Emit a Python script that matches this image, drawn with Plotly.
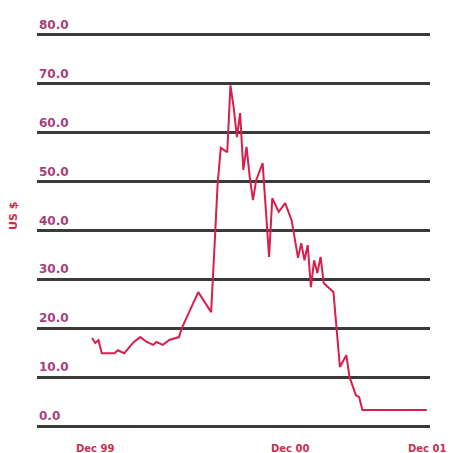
import plotly.graph_objects as go

# weeks since Dec 1999
weeks = [0, 1, 2, 3, 7, 8, 10, 13, 15, 17, 19, 20, 22, 24, 27, 28, 33, 37, 38, 39, 40,
         42, 43, 44, 45, 46, 47, 48, 49, 50, 51, 53, 55, 56, 58, 60, 62, 64, 65, 66, 67,
         68, 69, 70, 71, 72, 75, 77, 79, 80, 82, 83, 84, 90, 96, 104]
price = [18.0, 17.0, 17.6, 14.9, 14.9, 15.5, 14.9, 17.2, 18.2, 17.2, 16.6, 17.2, 16.6, 17.6,
         18.2, 20.2, 27.4, 23.3, 36.0, 49.3, 56.9,
         56.0, 69.7, 65.2, 59.1, 64.0, 52.4, 57.1, 50.9, 46.2, 50.3, 53.8, 34.6, 46.6, 43.8,
         45.6, 42.1, 34.4, 37.4, 33.9, 37.0,
         28.4, 33.9, 31.3, 34.6, 29.2, 27.4, 12.1, 14.5, 10.0, 6.3, 5.9, 3.3, 3.3, 3.3, 3.3]

y_ticks = [0, 10, 20, 30, 40, 50, 60, 70, 80]
x_labels = ["Dec 99", "Dec 00", "Dec 01"]
x_label_px = [95, 290, 448]
x_label_anchor = ["center", "center", "right"]

L, R, T, B = 37, 20, 32, 24
W, H = 450, 453
pw, ph = W - L - R, H - T - B

fig = go.Figure()
fig.add_trace(go.Scatter(x=weeks, y=price, mode="lines",
                         line=dict(color="#d81e4c", width=2), hoverinfo="skip"))

ann = []
for v in y_ticks:
    ann.append(dict(x=0, xref="paper", y=v, yref="y", xanchor="left", yanchor="bottom",
                    yshift=1, text=f"{v:.1f}", showarrow=False,
                    font=dict(family="DejaVu Sans", size=12, weight="bold", color="#a8407a")))
for t, p, a in zip(x_labels, x_label_px, x_label_anchor):
    ann.append(dict(x=(p - L) / pw, xref="paper", y=0, yref="paper", xanchor=a,
                    yanchor="middle", yshift=-19, text=t, showarrow=False,
                    font=dict(family="DejaVu Sans", size=10, weight="bold", color="#c8304f")))
ann.append(dict(x=(13 - L) / pw, xref="paper", y=(H - B - 216) / ph, yref="paper",
                xanchor="center", yanchor="middle", textangle=-90, text="US $",
                showarrow=False,
                font=dict(family="DejaVu Sans", size=11, weight="bold", color="#d02a52")))

fig.update_layout(
    width=W, height=H,
    margin=dict(l=L, r=R, t=T, b=B),
    paper_bgcolor="white", plot_bgcolor="white",
    showlegend=False,
    xaxis=dict(range=[-17.1, 105], showgrid=False, showticklabels=False, zeroline=False,
               showline=False, ticks=""),
    yaxis=dict(range=[-0.6, 80.6], tickvals=y_ticks, showticklabels=False, showgrid=True,
               gridcolor="#3a3a3a", gridwidth=2.5, zeroline=False, showline=False, ticks=""),
    annotations=ann,
)
fig.write_html("out.html")
